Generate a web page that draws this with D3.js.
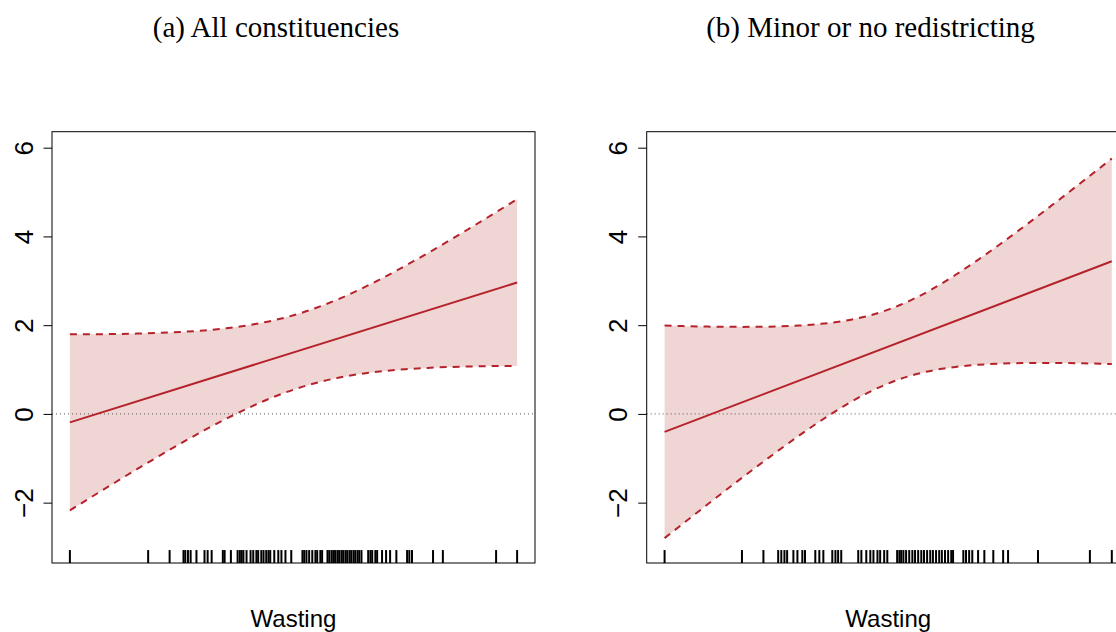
<!DOCTYPE html>
<html>
<head>
<meta charset="utf-8">
<script src="https://cdn.jsdelivr.net/npm/d3@7"></script>
<style>
  html,body{margin:0;padding:0;background:#fff;overflow:hidden;}
  svg{display:block;}
</style>
</head>
<body>
<div id="chart"></div>
<script>
(() => {

  /* ---------- DATA ---------- */
  const TITLES=["(a) All constituencies","(b) Minor or no redistricting"];
  const X_LABEL="Wasting";
  const Y_TICKS=[-2,0,2,4,6];

  /* grid of wasting values (range of the rug, 0..100) */
  const GRID=[0,5,10,15,20,25,30,35,40,45,50,55,60,65,70,75,80,85,90,95,100];

  /* panel (a) */
  const A_UPPER=[1.795,1.796,1.801,1.810,1.825,1.848,1.882,1.931,2.001,2.096,2.224,
                 2.387,2.585,2.814,3.067,3.338,3.623,3.917,4.219,4.527,4.838];
  const A_LOWER=[-2.175,-1.861,-1.551,-1.245,-0.945,-0.653,-0.372,-0.106,0.139,0.359,0.546,
                 0.698,0.815,0.902,0.963,1.007,1.037,1.058,1.071,1.079,1.082];
  const A_FIT_X=[0,100], A_FIT=[-0.19,2.96];
  const A_RUG=[0,17.5,22.3,25.4,25.8,26.4,27.0,28.3,30.1,30.8,31.7,34.2,34.6,36.0,37.5,38.0,
               38.4,38.8,39.5,40.4,41.0,41.7,42.1,42.8,43.3,43.9,44.4,44.8,45.7,46.6,47.3,48.2,
               49.5,52.0,52.4,52.9,53.5,54.2,54.9,55.3,56.0,56.4,57.6,58.0,58.5,58.9,59.3,59.8,
               60.2,60.7,61.1,61.6,62.0,62.5,62.9,63.4,63.8,64.3,64.7,65.2,66.7,67.2,67.6,68.3,
               68.7,69.8,70.7,71.6,73.0,75.4,75.9,76.5,81.2,83.4,95.3,100];

  /* panel (b) */
  const B_UPPER=[1.990,1.977,1.967,1.962,1.962,1.970,1.991,2.030,2.094,2.196,2.349,
                 2.559,2.823,3.130,3.467,3.824,4.196,4.578,4.966,5.359,5.755];
  const B_LOWER=[-2.800,-2.403,-2.008,-1.618,-1.234,-0.858,-0.494,-0.148,0.172,0.454,0.686,
                 0.861,0.981,1.059,1.106,1.133,1.146,1.149,1.146,1.137,1.125];
  const B_FIT_X=[0,100], B_FIT=[-0.405,3.44];
  const B_RUG=[0,17.3,22.1,25.4,26.1,26.8,27.4,28.8,29.7,30.8,31.4,33.7,34.6,35.5,37.5,38.2,
               38.8,39.5,43.3,44.0,45.1,46.0,46.7,47.6,48.2,49.1,49.8,52.0,52.5,52.9,53.4,54.0,
               54.7,55.4,56.0,56.7,57.4,58.0,58.7,59.4,60.0,60.7,61.4,62.0,62.7,63.4,64.1,64.5,
               66.8,67.4,68.1,68.8,70.1,71.5,73.5,75.7,76.8,83.5,95.1,100];

  /* ---------- CONFIG ---------- */
  const W=1116, H=632;
  const BOX_W=483, BOX_TOP=131.7, BOX_BOT=563;
  const PANELS=[
    {left:52,    titleX:276,   upper:A_UPPER, lower:A_LOWER, fx:A_FIT_X, fit:A_FIT, rug:A_RUG},
    {left:646.7, titleX:870.5, upper:B_UPPER, lower:B_LOWER, fx:B_FIT_X, fit:B_FIT, rug:B_RUG}
  ];
  const COL_LINE="#b5222a", COL_BAND="#f0d5d5";

  const svg=d3.select("#chart").append("svg").attr("width",W).attr("height",H);

  /* ---------- ONE PANEL ---------- */
  function drawPanel(p,i){
    const g=svg.append("g");
    /* R style: 4% padding on both axes */
    const x=d3.scaleLinear().domain([-4,104]).range([p.left,p.left+BOX_W]);
    const y=d3.scaleLinear().domain([-3.36,6.36]).range([BOX_BOT,BOX_TOP]);

    /* title */
    svg.append("text").attr("x",p.titleX).attr("y",37)
      .attr("text-anchor","middle")
      .style("font-family","'Liberation Serif','Times New Roman',serif")
      .style("font-size","29px").text(TITLES[i]);

    /* band */
    const band=GRID.map((v,k)=>({x:v,lo:p.lower[k],hi:p.upper[k]}));
    g.append("path").datum(band)
      .attr("fill",COL_BAND)
      .attr("d",d3.area().x(d=>x(d.x)).y0(d=>y(d.lo)).y1(d=>y(d.hi)).curve(d3.curveNatural));

    /* zero line */
    g.append("line")
      .attr("x1",x.range()[0]).attr("x2",x.range()[1])
      .attr("y1",y(0)).attr("y2",y(0))
      .attr("stroke","#555").attr("stroke-width",1).attr("stroke-dasharray","1,3");

    /* bounds */
    const ln=d3.line().x(d=>x(d[0])).y(d=>y(d[1])).curve(d3.curveNatural);
    [p.upper,p.lower].forEach(s=>{
      g.append("path").datum(GRID.map((v,k)=>[v,s[k]]))
        .attr("fill","none").attr("stroke",COL_LINE).attr("stroke-width",2)
        .attr("stroke-dasharray","7,6").attr("d",ln);
    });

    /* fitted line */
    g.append("path").datum(p.fx.map((v,k)=>[v,p.fit[k]]))
      .attr("fill","none").attr("stroke",COL_LINE).attr("stroke-width",2)
      .attr("d",d3.line().x(d=>x(d[0])).y(d=>y(d[1])));

    /* rug */
    const rugLen=(BOX_BOT-BOX_TOP)*0.03;
    g.selectAll("line.rug").data(p.rug).enter().append("line").attr("class","rug")
      .attr("x1",d=>x(d)).attr("x2",d=>x(d))
      .attr("y1",BOX_BOT).attr("y2",BOX_BOT-rugLen)
      .attr("stroke","#000").attr("stroke-width",2);

    /* box */
    g.append("rect")
      .attr("x",x.range()[0]).attr("y",BOX_TOP)
      .attr("width",BOX_W).attr("height",BOX_BOT-BOX_TOP)
      .attr("fill","none").attr("stroke","#000").attr("stroke-width",1);

    /* y axis */
    const ax=g.append("g").attr("transform",`translate(${x.range()[0]},0)`)
      .call(d3.axisLeft(y).tickValues(Y_TICKS).tickSize(8.5).tickPadding(0)
              .tickFormat(v=>v<0?"\u2212"+Math.abs(v):v));
    ax.select(".domain").remove();
    ax.selectAll(".tick line").attr("stroke","#000");
    ax.selectAll(".tick text")
      .attr("x",null).attr("dy",null)
      .attr("text-anchor","middle")
      .attr("transform","translate(-19.5,0) rotate(-90)")
      .style("font-family","'Liberation Sans',Arial,Helvetica,sans-serif")
      .style("font-size","26px").attr("fill","#000");

    /* x label */
    g.append("text").attr("x",(x.range()[0]+x.range()[1])/2).attr("y",627)
      .attr("text-anchor","middle")
      .style("font-family","'Liberation Sans',Arial,Helvetica,sans-serif")
      .style("font-size","24px").text(X_LABEL);
  }

  PANELS.forEach(drawPanel);

})();
</script>
</body>
</html>
